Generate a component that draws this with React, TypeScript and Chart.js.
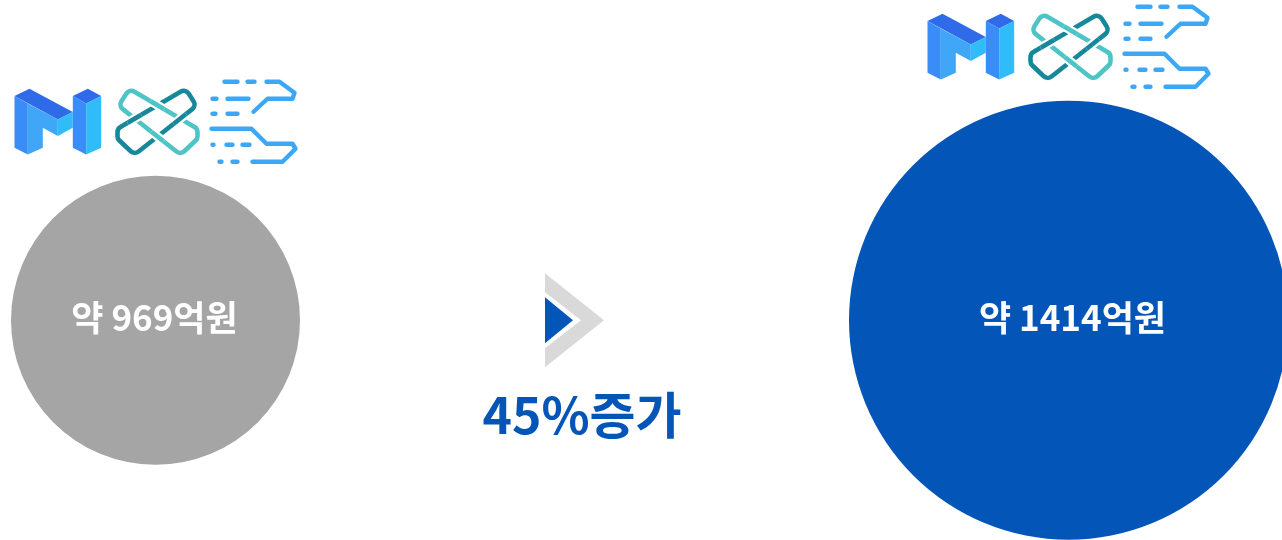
import React, { useEffect, useRef } from "react";
import { Chart, registerables } from "chart.js";

Chart.register(...registerables);

// ---- data ----
const categories = ["이전", "이후"];
const values = [969, 1414];
const unitPrefix = "약 ";
const unitSuffix = "억원";
const increaseLabel = "45%증가";

// ---- styles ----
const W = 1282;
const H = 540;
const circleColors = ["#A5A5A5", "#0455B8"];
const R_MIN = 144.5;
const R_MAX = 219.5;
const X_MIN = -0.170318;
const X_MAX = 1.233844;
const Y_MIN = -0.406944;
const Y_MAX = 0.593056;
const FONT = '"Noto Sans CJK KR", "Noto Sans", sans-serif';
const ACCENT = "#0455B8";

type Pt = [number, number];

function poly(ctx: CanvasRenderingContext2D, pts: Pt[], color: string) {
  ctx.beginPath();
  ctx.moveTo(pts[0][0], pts[0][1]);
  for (let i = 1; i < pts.length; i++) ctx.lineTo(pts[i][0], pts[i][1]);
  ctx.closePath();
  ctx.fillStyle = color;
  ctx.fill();
}

function roundedLoop(ctx: CanvasRenderingContext2D, pts: Pt[], r: number) {
  const n = pts.length;
  const mid = (a: Pt, b: Pt): Pt => [(a[0] + b[0]) / 2, (a[1] + b[1]) / 2];
  ctx.beginPath();
  const start = mid(pts[n - 1], pts[0]);
  ctx.moveTo(start[0], start[1]);
  for (let i = 0; i < n; i++) {
    const p = pts[i];
    const q = pts[(i + 1) % n];
    ctx.arcTo(p[0], p[1], q[0], q[1], r);
  }
  ctx.closePath();
}

function strokePath(ctx: CanvasRenderingContext2D, pts: Pt[]) {
  ctx.beginPath();
  ctx.moveTo(pts[0][0], pts[0][1]);
  for (let i = 1; i < pts.length; i++) ctx.lineTo(pts[i][0], pts[i][1]);
  ctx.stroke();
}

// logo drawn in a local frame anchored at the top-centre of its circle
function drawLogo(ctx: CanvasRenderingContext2D, ax: number, ay: number) {
  ctx.save();
  ctx.translate(ax - 156, ay - 178);

  // --- isometric M ---
  const top = "#2F6BE9";
  const mid = "#3A8CF6";
  const light = "#3FA6F8";
  const cyan = "#30BCF8";
  poly(ctx, [[15, 98.3], [30, 91], [73.3, 114.3], [58.3, 121.7]], top);
  poly(ctx, [[15, 98.3], [28.3, 105.7], [28.3, 156.7], [15, 150]], mid);
  poly(ctx, [[28.3, 105.7], [58.3, 121.7], [58.3, 138.3], [43.3, 130], [43.3, 150], [28.3, 156.7]], light);
  poly(ctx, [[58.3, 121.7], [73.3, 114.3], [73.3, 130], [58.3, 138.3]], cyan);
  poly(ctx, [[73.3, 98.3], [88.3, 91], [101.7, 98.3], [86.7, 105.7]], top);
  poly(ctx, [[73.3, 98.3], [86.7, 105.7], [86.7, 156.7], [73.3, 150]], mid);
  poly(ctx, [[86.7, 105.7], [101.7, 98.3], [101.7, 150], [86.7, 156.7]], cyan);

  // --- interlocked links ---
  const lightLoop: Pt[] = [[119, 108], [130, 91], [198, 131], [198, 141], [181, 157]];
  const darkLoop: Pt[] = lightLoop.map(([x, y]) => [316 - x, y] as Pt);
  const LC = "#4EC4C7";
  const DC = "#17889A";
  const RR = 6;
  ctx.lineJoin = "round";
  ctx.lineCap = "round";
  ctx.lineWidth = 4.6;
  ctx.strokeStyle = DC;
  roundedLoop(ctx, darkLoop, RR);
  ctx.stroke();
  ctx.strokeStyle = LC;
  roundedLoop(ctx, lightLoop, RR);
  ctx.stroke();
  const crossings: { p: Pt; loop: Pt[]; c: string }[] = [
    { p: [158, 107.5], loop: lightLoop, c: LC },
    { p: [158, 138.8], loop: lightLoop, c: LC },
    { p: [135.3, 121.7], loop: darkLoop, c: DC },
    { p: [180.7, 121.7], loop: darkLoop, c: DC },
  ];
  for (const cr of crossings) {
    ctx.save();
    ctx.beginPath();
    ctx.arc(cr.p[0], cr.p[1], 8, 0, Math.PI * 2);
    ctx.clip();
    ctx.strokeStyle = "#FFFFFF";
    ctx.lineWidth = 9;
    roundedLoop(ctx, cr.loop, RR);
    ctx.stroke();
    ctx.strokeStyle = cr.c;
    ctx.lineWidth = 4.6;
    roundedLoop(ctx, cr.loop, RR);
    ctx.stroke();
    ctx.restore();
  }

  // --- data-stream lines ---
  ctx.strokeStyle = "#3CA8F5";
  ctx.lineWidth = 4.4;
  const segs: Pt[][] = [
    [[225, 84], [238, 84]],
    [[248, 84], [255, 84]],
    [[267, 84], [280, 84], [295, 95], [293, 101], [268, 101], [254, 114]],
    [[213, 101], [217, 101]],
    [[228, 101], [249, 101]],
    [[213, 116], [216, 116]],
    [[228, 116], [238, 116]],
    [[212, 131], [252, 131], [267, 146], [293, 146], [296, 151], [283, 164], [253, 164]],
    [[213, 147], [214, 147]],
    [[227, 147], [233, 147]],
    [[243, 147], [250, 147]],
    [[220, 164], [222, 164]],
    [[233, 164], [238, 164]],
  ];
  for (const s of segs) strokePath(ctx, s);
  ctx.restore();
}

const decorPlugin = {
  id: "decor",
  afterDatasetsDraw(chart: any) {
    const ctx: CanvasRenderingContext2D = chart.ctx;
    const meta = chart.getDatasetMeta(0);
    const els = meta.data;
    ctx.save();
    els.forEach((el: any, i: number) => {
      const { x, y } = el.getProps(["x", "y"], true);
      const r = el.options.radius;
      drawLogo(ctx, x, y - r);
      ctx.font = `bold 35px ${FONT}`;
      ctx.fillStyle = "#FFFFFF";
      ctx.textAlign = "center";
      ctx.textBaseline = "alphabetic";
      ctx.fillText(`${unitPrefix}${values[i]}${unitSuffix}`, x + (i === 0 ? -1 : 4), y + 11);
    });
    if (els.length >= 2) {
      const a = els[0].getProps(["x", "y"], true);
      const b = els[1].getProps(["x", "y"], true);
      const gx = (a.x + els[0].options.radius + b.x - els[1].options.radius) / 2;
      const cy = a.y;
      // chevron
      poly(ctx, [[gx - 29.5, cy - 47], [gx + 29.5, cy], [gx - 29.5, cy + 47]], "#D9D9D9");
      poly(ctx, [[gx - 29.5, cy - 28], [gx + 6.5, cy], [gx - 29.5, cy + 28]], "#FFFFFF");
      poly(ctx, [[gx - 29.5, cy - 23], [gx - 1.5, cy], [gx - 29.5, cy + 23]], ACCENT);
      ctx.font = `bold 50px ${FONT}`;
      ctx.fillStyle = ACCENT;
      ctx.textAlign = "center";
      ctx.textBaseline = "alphabetic";
      ctx.fillText(increaseLabel, gx + 7.5, cy + 114);
    }
    ctx.restore();
  },
};

export default function App() {
  const ref = useRef<HTMLCanvasElement>(null);
  useEffect(() => {
    document.body.style.margin = "0";
    const canvas = ref.current;
    if (!canvas) return;
    const vmin = Math.min(...values);
    const vmax = Math.max(...values);
    const radiusOf = (v: number) => R_MIN + ((v - vmin) / (vmax - vmin)) * (R_MAX - R_MIN);
    const chart = new Chart(canvas, {
      type: "bubble",
      data: {
        labels: categories,
        datasets: [
          {
            label: "규모",
            data: values.map((v, i) => ({ x: i, y: 0, r: radiusOf(v) })),
            backgroundColor: circleColors,
            borderWidth: 0,
            hoverBorderWidth: 0,
            hoverRadius: 0,
            clip: false,
          } as any,
        ],
      },
      options: {
        responsive: false,
        animation: false,
        events: [],
        layout: { padding: 0, autoPadding: false },
        plugins: { legend: { display: false }, tooltip: { enabled: false } },
        scales: {
          x: { type: "linear", display: false, min: X_MIN, max: X_MAX },
          y: { type: "linear", display: false, min: Y_MIN, max: Y_MAX },
        },
      },
      plugins: [decorPlugin as any],
    });
    return () => chart.destroy();
  }, []);
  return <canvas ref={ref} width={W} height={H} style={{ display: "block" }} />;
}
